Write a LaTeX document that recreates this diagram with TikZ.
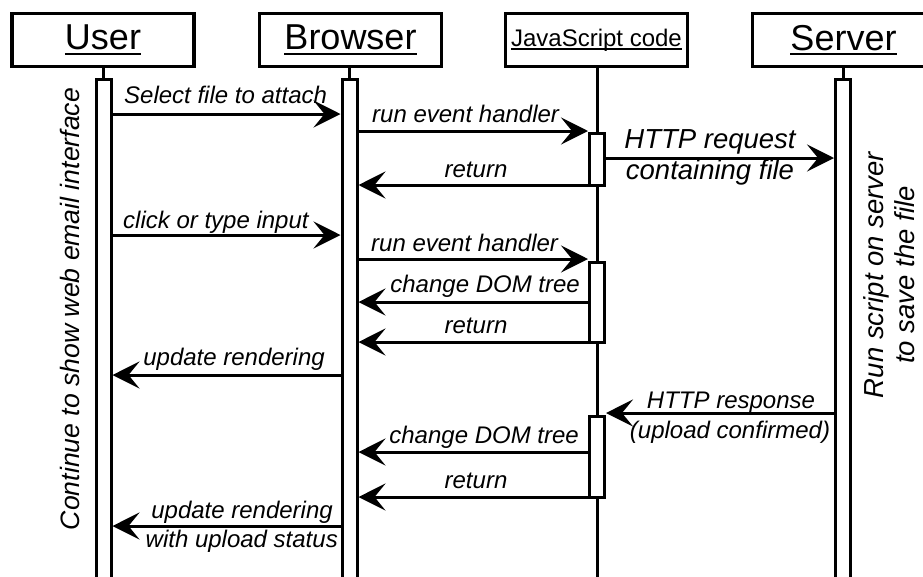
\documentclass[tikz,border=0pt]{standalone}
\usepackage{fontspec}
\setmainfont{Liberation Sans}
\usetikzlibrary{arrows.meta}
\newcommand\myul[2]{\setbox0\hbox{#2}\rlap{\rule[-#1]{\wd0}{2pt}}\box0}
\begin{document}
\begin{tikzpicture}[x=1pt,y=-1pt,
  head/.style={draw, line width=3.5pt, minimum width=182pt, minimum height=53pt, inner sep=0pt, fill=white},
  bar/.style={draw, line width=3pt, fill=white, minimum width=15pt, inner sep=0pt, anchor=north},
  msg/.style={line width=3pt, -{Stealth[length=27pt,width=27pt,inset=11pt]}},
  life/.style={line width=3pt},
  lbl/.style={font=\fontsize{24}{28}\selectfont\itshape, inner sep=0pt},
  biglbl/.style={font=\fontsize{27.5}{31}\selectfont\itshape, inner sep=0pt},
  ttl/.style={font=\fontsize{36}{40}\selectfont},
]
\useasboundingbox (0,0) rectangle (923,576);
\clip (0,0) rectangle (923,576);

% heads
\node[head, ttl] (user) at (103,40) {\myul{5pt}{User}};
\node[head, ttl] (browser) at (350.5,40) {\myul{5pt}{Browser}};
\node[head, font=\fontsize{24}{28}\selectfont] (js) at (596.5,40) {\myul{4pt}{JavaScript code}};
\node[head, ttl] (server) at (843.5,40) {\myul{5pt}{Server}};

% lifelines
\coordinate (jsend) at (597,600);
\draw[life] (js.south -| jsend) -- (jsend);

% activation bars
\node[bar, minimum height=530pt] (ubar) at (103.5,77.5) {};
\node[bar, minimum height=530pt] (bbar) at (349.5,77.5) {};
\node[bar, minimum height=530pt] (sbar) at (843,77.5) {};
\draw[life] (user.south -| ubar.north) -- (ubar.north);
\draw[life] (browser.south -| bbar.north) -- (bbar.north);
\draw[life] (server.south -| sbar.north) -- (sbar.north);

\node[bar, minimum height=52pt] (jbar1) at (597,131.5) {};
\node[bar, minimum height=80pt] (jbar2) at (597,260.5) {};
\node[bar, minimum height=81pt] (jbar3) at (597,414.5) {};

% messages
\draw[msg] (ubar.east |- 0,114) -- (bbar.west |- 0,114);
\node[lbl, anchor=base west] (m1) at (124,103) {Select file to attach};

\draw[msg] (bbar.east |- 0,131) -- (jbar1.west |- 0,131);
\node[lbl, anchor=base west] (m2) at (372,122) {run event handler};

\draw[msg] (jbar1.west |- 0,185) -- (bbar.east |- 0,185);
\node[lbl, anchor=base] (m3) at (476,177) {return};

\draw[msg] (jbar1.east |- 0,158) -- (sbar.west |- 0,158);
\node[biglbl, anchor=base] (m4a) at (710,148) {HTTP request};
\node[biglbl, anchor=base] (m4b) at (710,179) {containing file};

\draw[msg] (ubar.east |- 0,235) -- (bbar.west |- 0,235);
\node[lbl, anchor=base west] (m5) at (123,228) {click or type input};

\draw[msg] (bbar.east |- 0,259) -- (jbar2.west |- 0,259);
\node[lbl, anchor=base west] (m6) at (371,251) {run event handler};

\draw[msg] (jbar2.west |- 0,302) -- (bbar.east |- 0,302);
\node[lbl, anchor=base east] (m7) at (580,292) {change DOM tree};

\draw[msg] (jbar2.west |- 0,342) -- (bbar.east |- 0,342);
\node[lbl, anchor=base] (m8) at (476,333) {return};

\draw[msg] (bbar.west |- 0,375) -- (ubar.east |- 0,375);
\node[lbl, anchor=base east] (m9) at (325,365) {update rendering};

\draw[msg] (sbar.west |- 0,413) -- (jbar3.east |- 0,413);
\node[lbl, anchor=base] (m10a) at (731,408) {HTTP response};
\node[lbl, anchor=base] (m10b) at (730,438) {(upload confirmed)};

\draw[msg] (jbar3.west |- 0,452) -- (bbar.east |- 0,452);
\node[lbl, anchor=base east] (m11) at (579,443) {change DOM tree};

\draw[msg] (jbar3.west |- 0,497) -- (bbar.east |- 0,497);
\node[lbl, anchor=base] (m12) at (476,488) {return};

\draw[msg] (bbar.west |- 0,526) -- (ubar.east |- 0,526);
\node[lbl, anchor=base east] (m13a) at (333,518) {update rendering};
\node[lbl, anchor=base east] (m13b) at (338,547) {with upload status};

% vertical notes
\node[biglbl, rotate=90, font=\fontsize{26.6}{30}\selectfont\itshape] (cont) at (70,309) {Continue to show web email interface};
\node[biglbl, rotate=90, align=center] (run) at (889,275) {Run script on server\\to save the file};
\end{tikzpicture}
\end{document}
